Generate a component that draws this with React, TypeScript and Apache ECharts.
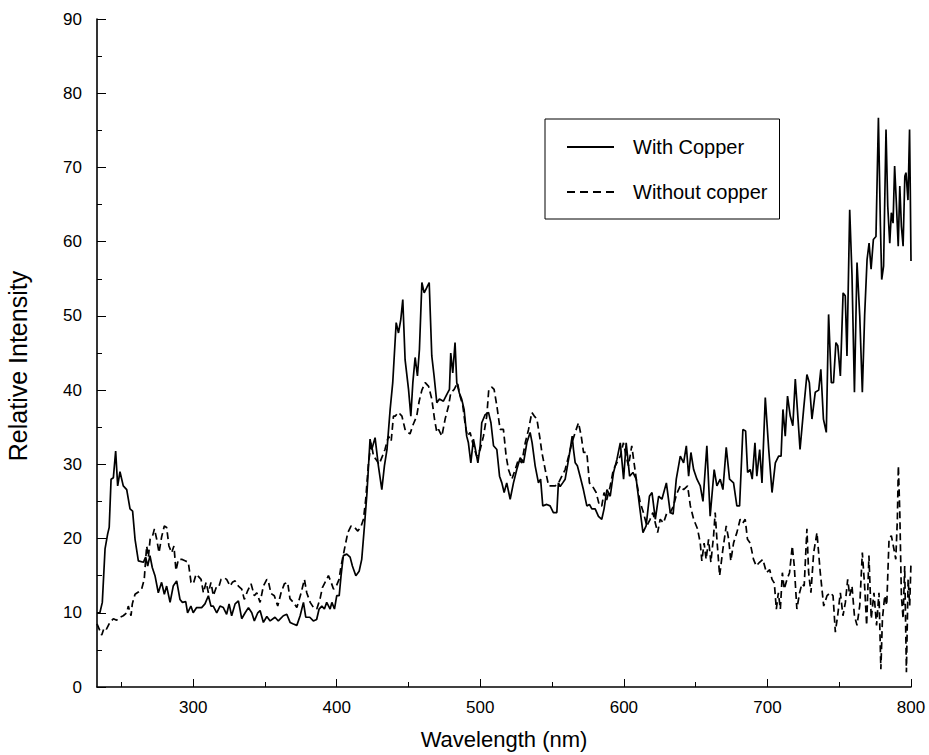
import React, { useEffect, useRef } from "react";
import * as echarts from "echarts";

// Wavelength (nm) / relative intensity readings, spectrum recorded with copper
const copperWavelength = [
  233, 235, 236.7, 238.6, 240.4, 241.5, 242.8, 244.4, 246, 247.4, 249, 251.3, 253.7, 256, 257.8, 259.5, 261.8,
  265.3, 266.9, 268.3, 269.9, 271.5, 273.4, 275.7, 278, 279.9, 281.5, 283.9, 286.1, 288.5, 290.8, 292.5, 294.8,
  296.1, 298.4, 300, 302.4, 305.9, 308.2, 310.6, 312.4, 314, 316.4, 318.7, 321, 323.3, 325, 326.8, 329.2, 331.5,
  333.8, 336.2, 338.5, 340.8, 342.6, 345, 346.6, 348.9, 351.3, 353.6, 357, 359.3, 362.8, 365.2, 367.5, 369.8,
  372.2, 374.5, 376.8, 378.4, 381.2, 383.7, 386, 387.7, 389.6, 391.4, 393, 395.4, 396.6, 398.4, 400, 401.7, 403,
  404.6, 407, 409.3, 410.9, 413.3, 415.6, 417.4, 419.3, 421, 423.2, 424.4, 426.7, 429, 431.4, 433.2, 435, 437.2,
  439, 441.4, 443, 444.6, 446, 447.6, 450, 451.6, 453, 454.6, 456.2, 457.6, 459.3, 460.9, 462.7, 464.4, 466.2,
  467.8, 469.7, 471.5, 474.3, 476.6, 478.5, 479.4, 480.8, 482.4, 483.6, 485.4, 487, 488.7, 490.5, 491.7, 493.4,
  495.2, 496.6, 498.3, 499.9, 501, 503.4, 505.7, 507.4, 509.2, 511.5, 513.4, 515, 516.6, 518.4, 520.8, 523.1,
  525.4, 527.8, 530.1, 532.4, 534.7, 536.1, 538.2, 540.5, 542, 543.5, 546.3, 548.6, 550.9, 553.3, 554.4, 555.6,
  557.4, 559.1, 560.7, 562.6, 564, 564.9, 566.1, 567.6, 569.5, 571.8, 574.2, 576, 577.7, 580, 582.3, 584.6,
  586.2, 588.2, 590.5, 592.8, 595.2, 597.5, 599.8, 601.6, 604, 606.3, 608.6, 610.9, 613.3, 615.5, 617.8, 619.6,
  621.9, 624.2, 626.5, 629.6, 632.3, 634.3, 636.5, 639.3, 641.6, 643.5, 645.1, 646.7, 648.6, 650.9, 653.2, 655.1,
  657.8, 660.1, 662.9, 664.8, 667.1, 669, 671.3, 673.6, 676.4, 678.7, 680.6, 682.9, 684.8, 686.2, 688, 689.4,
  691.3, 692.6, 694.6, 696.2, 698.5, 700.9, 703.2, 705.5, 707.8, 709.5, 710.8, 712.4, 714, 715.9, 717.7, 719.4,
  721, 722.7, 725.2, 727.5, 729.2, 731, 733.3, 735.7, 737.2, 739, 741, 742.6, 744.5, 746, 747.7, 749, 750.8,
  752.7, 754.2, 755.4, 757.3, 758.9, 760.6, 762.4, 764.3, 766.1, 767.7, 769.4, 770.8, 772.2, 773.8, 775.6, 777.3,
  778.7, 779.6, 780.9, 782.6, 783.8, 785.2, 786.3, 787.5, 788.6, 789.8, 791.1, 792.2, 793.3, 794.5, 795.7, 796.5,
  797.9, 799, 799.5, 800,
];
const copperIntensity = [
  10, 10, 11.4, 18.6, 20.6, 21.5, 28, 28.2, 31.8, 27.1, 29, 27.1, 26.6, 24, 23.7, 19.9, 17,
  16.8, 17.5, 16.3, 17.7, 16.1, 15, 12.7, 14.1, 12.5, 13.6, 11.4, 13.6, 14.3, 11.8, 11.4, 11.5,
  10, 10.9, 10, 10.7, 10.7, 11.2, 12.3, 10.9, 10.9, 10, 10.9, 10.7, 9.8, 11.2, 9.6, 11.2, 11.6,
  9.2, 10, 10.7, 10, 8.9, 10, 10.3, 8.7, 9.5, 8.9, 9.4, 8.9, 9.6, 9.8, 8.7, 8.5,
  8.3, 9.6, 11.4, 9.4, 9.4, 8.9, 9.1, 10.5, 10.9, 10.5, 11.4, 10.5, 11.4, 10.5, 12.3, 12.3, 15,
  17.7, 17.9, 17.5, 16.3, 15, 15.6, 17.2, 21.7, 26, 33.4, 32, 33.6, 29.8, 26.6, 29.8, 32, 37.4,
  41, 49.1, 47.7, 49.5, 52.2, 44.1, 40.1, 36.5, 41, 44.4, 41.9, 45.5, 54.5, 53.1, 53.8, 54.5, 44.6,
  41.9, 38.3, 38.8, 38.5, 39.4, 40.1, 45, 42.3, 46.4, 41, 39.6, 38.8, 37.4, 33.8, 32.9, 30.2,
  33.4, 32, 30.2, 32.5, 35.6, 36.7, 37, 35.6, 32.5, 32, 28.4, 27.5, 26.2, 27.5, 25.3, 27.5,
  29.3, 30.9, 30.2, 32.9, 34.3, 32.9, 29.8, 27.5, 28, 24.4, 24.6, 24.4, 23.5, 23.5, 27.5, 27,
  27.5, 28, 29.8, 32, 33.8, 32, 30.2, 29.8, 28.4, 26.6, 24.4, 24.6, 24, 24, 23, 22.6,
  24, 26.6, 25.7, 28.9, 30.7, 32.9, 28, 32.9, 28.4, 28.9, 28, 24.4, 20.8, 21.7, 25.7, 26.2,
  22.6, 25.7, 25.3, 27.5, 23.5, 23.3, 28, 31.1, 30.2, 32.5, 28.4, 31.6, 29.3, 28, 27.1, 25,
  32.5, 23, 29.3, 27.1, 28, 26.6, 32.3, 28, 27.5, 24.4, 24.4, 34.7, 34.5, 28.9, 29.3, 28,
  32.9, 28.4, 32, 27.5, 39, 32, 26.2, 30.2, 31.1, 31.1, 37.4, 33.8, 39.2, 36.5, 35.2, 41.5,
  37, 32, 37.4, 42.1, 41, 36.1, 39.7, 40, 42.8, 36.1, 34.3, 50.2, 41, 41, 46.4, 46, 41.9,
  53.1, 52.7, 44.6, 64.3, 55.5, 39.7, 57.2, 50, 39.7, 50, 57.6, 59.8, 56.3, 60.3, 60.7, 76.7,
  62.1, 54.9, 56.7, 75.1, 64.8, 59.8, 63.9, 62.5, 70.2, 65.2, 59.4, 67.5, 62.1, 59.4, 68.8, 69.3,
  65.6, 75.1, 67, 57.4,
];

// Same measurement without copper
const plainWavelength = [
  233, 236.3, 238, 239.6, 242, 244.4, 246.7, 249, 251.3, 253.7, 254.8, 256.7, 257.6, 259.5, 261.8, 264.1, 265.9,
  267.6, 268.8, 270, 271.5, 273, 274.6, 276.2, 278, 279.9, 281.5, 283.1, 285, 286.6, 288, 289.7, 292, 294.3,
  296.6, 298.5, 300.1, 302, 303.6, 305.5, 307.1, 309, 310.6, 312.4, 314, 316.4, 318, 319.4, 321.7, 323.3, 325.7,
  327.3, 329.2, 331.5, 333.8, 335.6, 338, 340.3, 342.6, 344.3, 346.6, 348.9, 351.3, 352.3, 354.2, 356.5, 358.9,
  361.2, 363.5, 365.8, 367.4, 369.8, 372.2, 375.2, 377.5, 379.1, 381.5, 383.8, 386.1, 388.4, 390, 392.4, 394.2,
  396.1, 397.7, 399.3, 401.6, 403, 405.4, 407.7, 410, 412.4, 414.7, 417, 418.6, 420.2, 422.1, 424, 425.6, 427.2,
  429.5, 431.8, 433.6, 436, 437.9, 439.5, 440.7, 443, 445.4, 447.6, 449.5, 451, 453.3, 455.7, 457.4, 459.3,
  461.6, 464, 466.2, 468.1, 469.7, 470.9, 473.2, 475.5, 477.9, 479.4, 481.8, 484.1, 485.9, 487.8, 489.6, 491,
  492.9, 495.2, 497.5, 499.9, 502.2, 504.5, 505.9, 508, 509.6, 511.5, 513.8, 516.1, 518, 519.6, 522, 524.3,
  526.6, 528.9, 531.3, 533.6, 535.9, 537.6, 539.4, 541.3, 542.9, 545.2, 547.6, 549.9, 552.2, 554.5, 556.8,
  559.1, 561.5, 563.8, 566.1, 568.4, 570.3, 571.9, 574.2, 576, 578.3, 580.7, 583, 584.6, 586.2, 588, 590.4,
  592.7, 595.1, 597.5, 599.7, 601.6, 603.2, 605.5, 607.1, 609, 611.3, 613.6, 616, 618.3, 620.2, 621.9, 623.5,
  625.3, 627.6, 630, 632.3, 634.6, 636.7, 639.3, 641.6, 644.4, 646.3, 648.6, 651.3, 653.2, 654.3, 655.9, 657.3,
  659, 660.6, 662.5, 663.6, 664.8, 666.7, 669, 671.3, 673, 674.5, 676.4, 678.7, 681, 682.9, 684.5, 686.1, 688,
  690.3, 692.2, 694.5, 696.8, 699.3, 701.6, 703.2, 704.8, 706.2, 707.6, 709, 710.4, 711.7, 713.6, 715.4, 717.3,
  718.7, 720.5, 722.4, 724, 725.6, 727.5, 728.7, 730.3, 732.2, 734.5, 736.8, 739.2, 741.5, 743.8, 745.7, 747.3,
  748.9, 750.8, 752.6, 754.3, 755.9, 757.3, 758.9, 760.6, 762.4, 764.3, 766.1, 767.7, 769.1, 770.7, 772.3,
  774.2, 776, 777.7, 779, 780.1, 781.7, 783.1, 784.7, 786.3, 787.7, 789.4, 790.5, 791.2, 792.2, 793.3, 794.5,
  795.6, 796.8, 798, 799.1, 800,
];
const plainIntensity = [
  8.5, 7, 8, 7.8, 8.7, 9.2, 9, 9.4, 9.6, 10, 10.9, 9.6, 11.2, 12.5, 12.8, 13.2, 14.5,
  19, 17.5, 19.9, 20.2, 21.3, 19.9, 18.1, 20.2, 21.7, 21.5, 19, 18.1, 19, 15.7, 17.2, 17.2, 17,
  16.8, 14.1, 13.9, 15.2, 14.9, 14.5, 12.7, 14.1, 12.7, 14.1, 12.3, 13.6, 13.6, 14.5, 14.7, 14.5, 13.6,
  14.1, 14.3, 13.6, 13.2, 11.8, 13, 13.9, 12.3, 12.7, 11.4, 13.6, 14.5, 14.3, 12.6, 12.3, 10.9,
  12.7, 13.9, 14.1, 11.9, 11.4, 10.7, 12.7, 14.5, 12.7, 11.4, 10.7, 10.5, 11.9, 13.4, 14.3, 15,
  14.1, 13.2, 13.4, 14.5, 16.3, 18.6, 20.8, 21.7, 21.5, 21, 21.7, 22.6, 25.3, 30.2, 32.9, 31.1, 30.7,
  30, 31.1, 32, 33.8, 33.1, 36.5, 36.5, 37, 36.5, 34.7, 34.3, 34.1, 35.4, 36.5, 38.5, 40,
  41, 40.5, 38.8, 36.1, 34.3, 34.7, 33.8, 36.1, 37.9, 39.6, 40.1, 41, 39.2, 37.9, 35.2, 33.8,
  34.3, 32.5, 31.1, 32, 33.8, 36.5, 40.1, 40.4, 40.1, 37.9, 34.7, 34.7, 31.1, 29.3, 28, 29.3,
  30.7, 30.2, 32.9, 34.7, 37, 36.5, 36.1, 33.8, 31.6, 29.3, 27.1, 27.1, 27.1, 27.5, 28.4,
  29.3, 31.1, 32.9, 34.3, 35.6, 33.8, 31.6, 31.6, 27.5, 27, 26.2, 24.4, 24.4, 26.2, 25.2, 27,
  29.3, 30.2, 31.1, 32.9, 31.1, 29.8, 32.5, 30.2, 27.5, 24.9, 23.5, 21.7, 22.6, 23.5, 22.1, 20.8,
  22.6, 22.1, 23.5, 23.5, 24.4, 26, 27.1, 26.6, 27.1, 24.4, 22.6, 21.3, 19.4, 17, 19.4, 17.2,
  19.9, 16.8, 20.4, 23.5, 19.9, 15, 18.6, 21.7, 19.9, 17, 19.4, 20.8, 22.6, 22.1, 22.6, 19.9, 19.4,
  17.2, 16.3, 16.8, 17.2, 15.4, 15.8, 14.5, 14, 10.5, 12.7, 10.5, 15.4, 13.2, 14.5, 15.4, 19,
  16.3, 10.5, 12.7, 13.9, 13.6, 21.3, 15.4, 12.7, 18.1, 20.8, 15.4, 10.9, 12.3, 12.7, 12.3, 7.4,
  9.6, 12.7, 9.6, 11.4, 14.5, 12.3, 13.6, 9.6, 8.3, 11, 18.1, 13.6, 8.3, 17.7, 9.2,
  12.7, 8.3, 12.7, 2.4, 9.2, 12.3, 11, 19.9, 20.4, 19, 17.2, 22.6, 29.8, 23.5, 12.3, 9.2,
  16.3, 2, 14.5, 11, 16.8,
];

// Axis ticks
const xMajorTicks = [300, 400, 500, 600, 700, 800];
const xMinorTicks = [250, 350, 450, 550, 650, 750];
const seriesNames = ["With Copper", "Without copper"];

const FONT = "'Liberation Sans', Arial, Helvetica, sans-serif";

function pairs(xs: number[], ys: number[]) {
  return xs.map((x, i) => [x, ys[i]]);
}

export default function App() {
  const ref = useRef<HTMLDivElement>(null);

  useEffect(() => {
    document.body.style.margin = "0";
    if (!ref.current) return;
    const chart = echarts.init(ref.current, undefined, { renderer: "svg" });
    const xBase = {
      type: "value" as const,
      min: 233,
      max: 800,
      position: "bottom" as const,
      splitLine: { show: false },
    };
    chart.setOption({
      animation: false,
      backgroundColor: "#fff",
      textStyle: { fontFamily: FONT, color: "#000" },
      grid: { left: 97, right: 18, top: 19, bottom: 67, containLabel: false },
      legend: {
        orient: "vertical",
        left: 545,
        top: 119,
        padding: [18, 12, 17, 21],
        itemWidth: 47,
        itemHeight: 14,
        itemGap: 25,
        borderColor: "#000",
        borderWidth: 1,
        backgroundColor: "#fff",
        itemStyle: { opacity: 0 },
        textStyle: { fontFamily: FONT, fontSize: 20, color: "#000", padding: [0, 0, 0, 14] },
        data: [
          { name: seriesNames[0] },
          { name: seriesNames[1], lineStyle: { type: [8, 5] } },
        ],
      },
      xAxis: [
        {
          ...xBase,
          name: "Wavelength (nm)",
          nameLocation: "middle",
          nameGap: 41,
          nameTextStyle: { fontFamily: FONT, fontSize: 22, color: "#000" },
          axisLine: { show: true, lineStyle: { color: "#000", width: 1.6 } },
          axisTick: {
            show: true,
            inside: true,
            length: 8,
            customValues: xMajorTicks,
            lineStyle: { color: "#000", width: 1 },
          },
          axisLabel: {
            customValues: xMajorTicks,
            margin: 12,
            fontFamily: FONT,
            fontSize: 17,
            color: "#000",
          },
        },
        {
          ...xBase,
          axisLine: { show: false },
          axisLabel: { show: false },
          axisTick: {
            show: true,
            inside: true,
            length: 5,
            customValues: xMinorTicks,
            lineStyle: { color: "#000", width: 1 },
          },
        },
      ],
      yAxis: {
        type: "value",
        min: 0,
        max: 90,
        interval: 10,
        splitLine: { show: false },
        axisLine: { show: true, lineStyle: { color: "#000", width: 1.6 } },
        axisTick: { show: true, inside: true, length: 9, lineStyle: { color: "#000", width: 1 } },
        minorTick: { show: true, splitNumber: 2, length: 5, lineStyle: { color: "#000", width: 1 } },
        minorSplitLine: { show: false },
        axisLabel: { margin: 15, fontFamily: FONT, fontSize: 17, color: "#000" },
      },
      graphic: [
        {
          type: "text",
          x: 18,
          y: 366,
          rotation: Math.PI / 2,
          style: {
            text: "Relative Intensity",
            fontFamily: FONT,
            fontSize: 25,
            fill: "#000",
            align: "center",
            verticalAlign: "middle",
          },
        },
      ],
      series: [
        {
          name: seriesNames[0],
          type: "line",
          xAxisIndex: 0,
          symbol: "none",
          showSymbol: false,
          lineStyle: { color: "#000", width: 1.7, type: "solid" },
          itemStyle: { color: "#000" },
          data: pairs(copperWavelength, copperIntensity),
        },
        {
          name: seriesNames[1],
          type: "line",
          xAxisIndex: 0,
          symbol: "none",
          showSymbol: false,
          lineStyle: { color: "#000", width: 1.7, type: [7, 4] },
          itemStyle: { color: "#000" },
          data: pairs(plainWavelength, plainIntensity),
        },
      ],
    });
    return () => chart.dispose();
  }, []);

  return <div ref={ref} style={{ width: 929, height: 755 }} />;
}
